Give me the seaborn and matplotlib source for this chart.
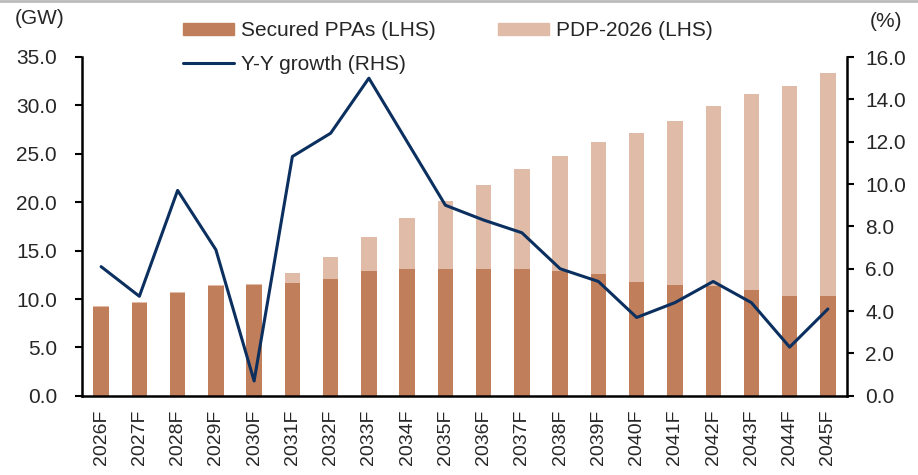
import numpy as np
import pandas as pd
import matplotlib
import seaborn as sns
from matplotlib import pyplot as plt
from matplotlib.patches import Patch
from matplotlib.lines import Line2D
matplotlib.use('Agg')

years = ['2026F', '2027F', '2028F', '2029F', '2030F', '2031F', '2032F', '2033F',
         '2034F', '2035F', '2036F', '2037F', '2038F', '2039F', '2040F', '2041F',
         '2042F', '2043F', '2044F', '2045F']
# secured PPAs (GW)
secured = [9.2, 9.6, 10.6, 11.3, 11.4, 11.7, 12.1, 12.9, 13.1, 13.1,
           13.1, 13.1, 12.9, 12.6, 11.8, 11.4, 11.3, 10.9, 10.3, 10.3]
# PDP-2026 total (GW)
pdp = [9.3, 9.7, 10.7, 11.4, 11.5, 12.7, 14.3, 16.4, 18.4, 20.1,
       21.8, 23.4, 24.8, 26.2, 27.2, 28.4, 29.9, 31.2, 32.0, 33.3]
# y-y growth (%)
growth = [6.1, 4.7, 9.7, 6.9, 0.7, 11.3, 12.4, 15.0, 12.0, 9.0,
          8.3, 7.7, 6.0, 5.4, 3.7, 4.4, 5.4, 4.4, 2.3, 4.1]

c_sec = '#C07F5A'
c_pdp = '#E0BCA8'
c_line = '#0B2F5F'

df = pd.DataFrame({'year': years, 'secured': secured, 'pdp': pdp, 'growth': growth})

sns.set_style('white')
plt.rcParams['font.family'] = ['Liberation Sans', 'DejaVu Sans']
plt.rcParams['font.size'] = 15

fig = plt.figure(figsize=(9.18, 4.75), dpi=100)
ax = fig.add_axes([0.0893, 0.1667, 0.8334, 0.7133])

sns.barplot(data=df, x='year', y='pdp', color=c_pdp, width=0.4, ax=ax,
            saturation=1, linewidth=0)
sns.barplot(data=df, x='year', y='secured', color=c_sec, width=0.4, ax=ax,
            saturation=1, linewidth=0)

ax.set_xlim(-0.5, len(years) - 0.5)
ax.set_ylim(0, 35)
ax.set_yticks(np.arange(0, 35.1, 5))
ax.set_yticklabels([f'{v:.1f}' for v in np.arange(0, 35.1, 5)])
ax.set_xlabel('')
ax.set_ylabel('')
ax.tick_params(axis='x', which='major', length=0, rotation=90, labelsize=14, pad=10)
ax.set_xticks(np.arange(-0.5, len(years), 1), minor=True)
ax.tick_params(axis='x', which='minor', length=5, width=1.5, direction='out', color='black')
ax.tick_params(axis='y', length=5, width=1.5, direction='out', color='black', labelsize=15, pad=13)
for s in ['left', 'bottom']:
    ax.spines[s].set_color('black')
    ax.spines[s].set_linewidth(1.8)
ax.spines['top'].set_visible(False)
ax.spines['right'].set_visible(False)

ax2 = ax.twinx()
sns.lineplot(x=np.arange(len(years)), y=df['growth'], color=c_line, linewidth=2.2, ax=ax2)
ax2.set_ylim(0, 16)
ax2.set_yticks(np.arange(0, 16.1, 2))
ax2.set_yticklabels([f'{v:.1f}' for v in np.arange(0, 16.1, 2)])
ax2.set_ylabel('')
ax2.tick_params(axis='y', length=5, width=1.5, direction='out', color='black', labelsize=15, pad=8)
ax2.spines['right'].set_color('black')
ax2.spines['right'].set_linewidth(1.8)
for s in ['top', 'left', 'bottom']:
    ax2.spines[s].set_visible(False)
ax.set_xlim(-0.5, len(years) - 0.5)

fig.text(0.016, 0.962, '(GW)', fontsize=15, va='center')
fig.text(0.947, 0.955, '(%)', fontsize=15, va='center')

handles = [Patch(color=c_sec, label='Secured PPAs (LHS)'),
           Line2D([0], [0], color=c_line, lw=2.2, label='Y-Y growth (RHS)'),
           Patch(color=c_pdp, label='PDP-2026 (LHS)')]
fig.legend(handles=handles, ncol=2, loc='upper left', bbox_to_anchor=(0.19, 0.973),
           frameon=False, fontsize=15, handlelength=2.45, handleheight=0.48,
           columnspacing=3.0, labelspacing=0.7, handletextpad=0.33,
           borderaxespad=0)

fig.add_artist(Line2D([0, 1], [0.998, 0.998], color='#BBBBBB', lw=2))

plt.savefig('out.png', dpi=100)
